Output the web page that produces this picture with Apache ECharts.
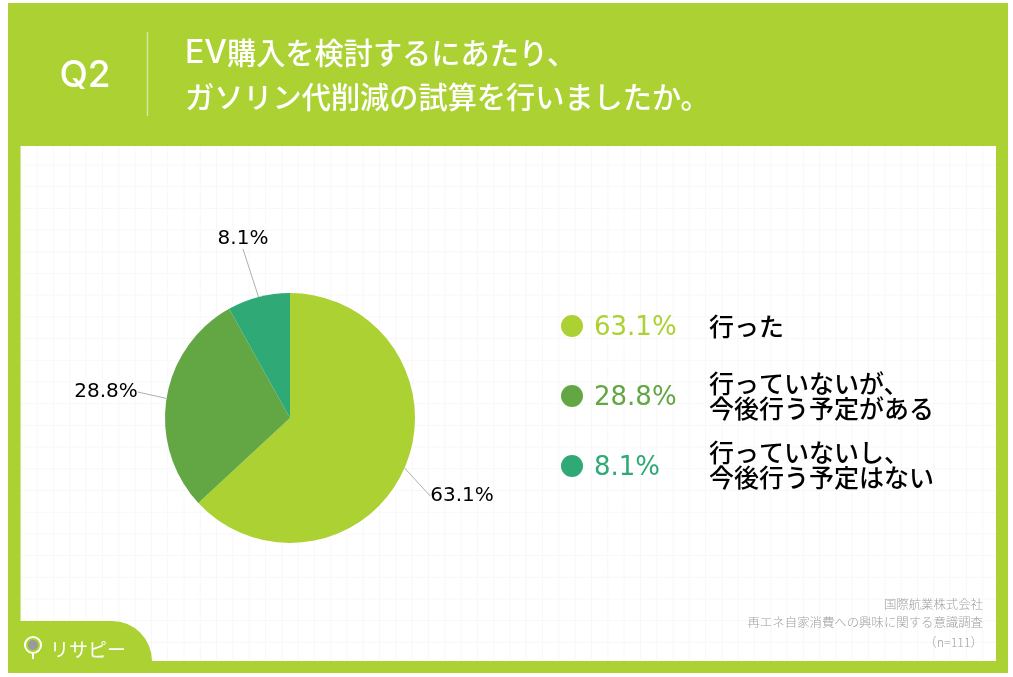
<!DOCTYPE html>
<html>
<head>
<meta charset="utf-8">
<title>Q2</title>
<script src="https://cdn.jsdelivr.net/npm/echarts@6/dist/echarts.min.js"></script>
<style>
html,body{margin:0;padding:0;background:#fff;}
#main{width:1013px;height:677px;}
</style>
</head>
<body>
<div id="main"></div>
<script>
const categories = ['行った', '行っていないが、\n今後行う予定がある', '行っていないし、\n今後行う予定はない'];
const values = [63.1, 28.8, 8.1];
const colors = ['#abd132', '#62a744', '#2fa975'];
const titleLines = ['{e|EV}{j|購入を検討するにあたり、}', '{j|ガソリン代削減の試算を行いましたか。}'];
const footerLines = ['国際航業株式会社', '再エネ自家消費への興味に関する意識調査', '（n=111）'];

const jp = '"Noto Sans CJK JP", sans-serif';
const num = 'Inter, sans-serif';
const pct = '"DejaVu Sans", sans-serif';
const legendY = [326, 396, 466];
const labelPos = [[462, 496], [106, 392], [243, 239]];

const myChart = echarts.init(document.querySelector('#main'));

// 背景の薄い方眼
const gridLines = [];
for (let x = 21; x < 996; x += 16.3) {
  gridLines.push({type: 'line', z: 1, shape: {x1: x, y1: 146, x2: x, y2: 661}, style: {stroke: '#f8f8f8', lineWidth: 1}});
}
for (let y = 165; y < 661; y += 21.7) {
  gridLines.push({type: 'line', z: 1, shape: {x1: 21, y1: y, x2: 996, y2: y}, style: {stroke: '#f8f8f8', lineWidth: 1}});
}

const legendItems = [];
categories.forEach((name, i) => {
  legendItems.push({type: 'circle', z: 3, shape: {cx: 572, cy: legendY[i], r: 11}, style: {fill: colors[i]}});
  legendItems.push({type: 'text', z: 3, x: 594, y: legendY[i] + 2, style: {
    text: values[i] + '%', fill: colors[i], font: '26px ' + pct, textVerticalAlign: 'middle'
  }});
  legendItems.push({type: 'text', z: 3, x: 709, y: legendY[i] + (i === 2 ? -1 : 0), style: {
    text: name, fill: '#000', font: '500 25px ' + jp, lineHeight: 25, textVerticalAlign: 'middle'
  }});
});

const titleRich = {
  e: {fill: '#fff', font: '500 32px ' + num},
  j: {fill: '#fff', font: '500 29.2px ' + jp}
};

const option = {
  animation: false,
  backgroundColor: '#fff',
  graphic: {
    elements: [
      {type: 'rect', z: 0, shape: {x: 8, y: 3, width: 1000, height: 670}, style: {fill: '#abd132'}},
      {type: 'rect', z: 0, shape: {x: 21, y: 146, width: 975, height: 515}, style: {fill: '#fff'}},
      ...gridLines,
      {type: 'text', z: 3, x: 85, y: 76, style: {text: 'Q2', fill: '#fff', font: '500 37px ' + num, textAlign: 'center', textVerticalAlign: 'middle'}},
      {type: 'line', z: 3, shape: {x1: 147.5, y1: 32, x2: 147.5, y2: 116}, style: {stroke: '#d6e89a', lineWidth: 1.5}},
      {type: 'text', z: 3, x: 185, y: 53, style: {text: titleLines[0], rich: titleRich, textVerticalAlign: 'middle'}},
      {type: 'text', z: 3, x: 185, y: 97, style: {text: titleLines[1], rich: titleRich, textVerticalAlign: 'middle'}},
      ...legendItems,
      {type: 'text', z: 3, x: 983, y: 604, style: {text: footerLines[0], fill: '#a0a0a0', font: '300 12.4px ' + jp, textAlign: 'right', textVerticalAlign: 'middle'}},
      {type: 'text', z: 3, x: 983, y: 622, style: {text: footerLines[1], fill: '#a0a0a0', font: '300 12.4px ' + jp, textAlign: 'right', textVerticalAlign: 'middle'}},
      {type: 'text', z: 3, x: 983, y: 642, style: {text: footerLines[2], fill: '#a0a0a0', font: '300 12.4px ' + jp, textAlign: 'right', textVerticalAlign: 'middle'}},
      // 左下のロゴ
      {type: 'rect', z: 3, shape: {x: 19, y: 621, width: 133, height: 42, r: [0, 40, 0, 0]}, style: {fill: '#abd132'}},
      {type: 'circle', z: 4, shape: {cx: 33, cy: 645, r: 8}, style: {fill: '#abd132', stroke: '#fff', lineWidth: 2}},
      {type: 'circle', z: 4, shape: {cx: 33, cy: 645, r: 5}, style: {fill: '#9a9a9a'}},
      {type: 'line', z: 4, shape: {x1: 33, y1: 654, x2: 33, y2: 659}, style: {stroke: '#fff', lineWidth: 2}},
      {type: 'text', z: 4, x: 50, y: 650, style: {text: 'リサピー', fill: '#fff', font: '400 19px ' + jp, textVerticalAlign: 'middle'}}
    ]
  },
  series: [
    {
      type: 'pie',
      center: [290, 418],
      radius: [0, 125],
      startAngle: 90,
      clockwise: true,
      z: 5,
      data: categories.map((name, i) => ({name, value: values[i], itemStyle: {color: colors[i]}})),
      label: {
        show: true,
        position: 'outside',
        formatter: p => p.value + '%',
        color: '#000',
        fontSize: 20,
        fontFamily: pct
      },
      labelLine: {
        show: true,
        length: 20,
        length2: 0,
        lineStyle: {color: '#999', width: 0.8}
      },
      labelLayout: p => ({
        x: labelPos[p.dataIndex][0],
        y: labelPos[p.dataIndex][1],
        align: 'center',
        verticalAlign: 'middle'
      }),
      emphasis: {disabled: true}
    }
  ]
};
myChart.setOption(option);
</script>
</body>
</html>
